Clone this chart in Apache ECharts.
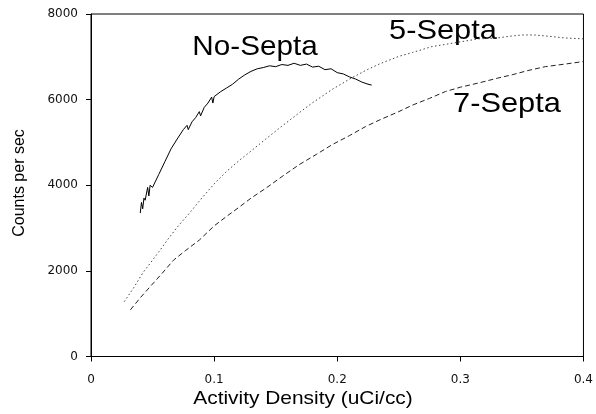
<!DOCTYPE html>
<html>
<head>
<meta charset="utf-8">
<script src="https://cdn.jsdelivr.net/npm/echarts@6/dist/echarts.min.js"></script>
<style>
html,body{margin:0;padding:0;background:#fff;}
#container1{width:596px;height:414px;}
</style>
</head>
<body>
<div id="container1"></div>
<script>
// x axis ticks
var xTicks = [0, 0.1, 0.2, 0.3, 0.4];
var yTicks = [0, 2000, 4000, 6000, 8000];

// No-Septa
var noSeptaX = [0.040, 0.041, 0.042, 0.043, 0.044, 0.046, 0.047, 0.048, 0.050, 0.055, 0.060, 0.065, 0.070, 0.075,
                0.078, 0.079, 0.082, 0.085, 0.088, 0.089, 0.092, 0.095, 0.098, 0.099, 0.100, 0.105, 0.110, 0.115,
                0.120, 0.125, 0.130, 0.135, 0.140, 0.145, 0.150, 0.155, 0.160, 0.165, 0.170, 0.175, 0.180, 0.185,
                0.190, 0.195, 0.200, 0.205, 0.210, 0.215, 0.220, 0.225, 0.228];
var noSeptaY = [3350, 3600, 3450, 3700, 3650, 3950, 3750, 4000, 3950, 4250, 4550, 4850, 5080, 5300,
                5400, 5300, 5480, 5580, 5720, 5620, 5820, 5920, 6060, 5920, 6070, 6180, 6270, 6360,
                6480, 6580, 6660, 6720, 6750, 6790, 6770, 6820, 6800, 6850, 6800, 6830, 6760, 6780,
                6700, 6720, 6630, 6600, 6530, 6480, 6410, 6360, 6340];

// 5-Septa
var fiveSeptaX = [0.027, 0.035, 0.042, 0.050, 0.056, 0.062, 0.070, 0.080, 0.090, 0.100, 0.110, 0.120, 0.130,
                  0.142, 0.155, 0.169, 0.180, 0.196, 0.210, 0.223, 0.234, 0.250, 0.261, 0.277, 0.288, 0.300,
                  0.315, 0.330, 0.340, 0.350, 0.360, 0.372, 0.385, 0.400];
var fiveSeptaY = [1280, 1620, 1950, 2250, 2480, 2720, 3020, 3350, 3700, 4030, 4320, 4570, 4800,
                  5080, 5380, 5690, 5930, 6240, 6480, 6680, 6830, 7010, 7100, 7240, 7290, 7350,
                  7420, 7440, 7480, 7510, 7510, 7480, 7440, 7420];

// 7-Septa
var sevenSeptaX = [0.032, 0.040, 0.048, 0.058, 0.067, 0.077, 0.088, 0.100, 0.110, 0.120, 0.130, 0.142, 0.155,
                   0.169, 0.183, 0.196, 0.210, 0.223, 0.234, 0.250, 0.261, 0.275, 0.288, 0.300, 0.315, 0.330,
                   0.342, 0.355, 0.369, 0.385, 0.400];
var sevenSeptaY = [1090, 1370, 1630, 1950, 2250, 2480, 2720, 3050, 3270, 3480, 3700, 3930, 4200,
                   4480, 4720, 4950, 5160, 5370, 5520, 5720, 5870, 6030, 6190, 6290, 6390, 6500,
                   6580, 6680, 6770, 6830, 6890];

function pairs(xs, ys){
	var out = [];
	for(var i = 0; i < xs.length; i++){
		out.push([xs[i], ys[i]]);
	}
	return out;
}

var myChart = echarts.init(document.getElementById('container1'));
var option = {
	animation: false,
	grid: {
		left: 91, top: 14, right: 11, bottom: 57.5,
		show: true,
		borderColor: '#000',
		borderWidth: 1
	},
	xAxis: {
		type: 'value',
		min: xTicks[0],
		max: xTicks[xTicks.length - 1],
		interval: 0.1,
		splitLine: {show: false},
		axisLine: {lineStyle: {color: '#000', width: 1}},
		axisTick: {length: 5, lineStyle: {color: '#000'}},
		axisLabel: {
			color: '#111', fontFamily: 'DejaVu Sans', fontSize: 12, margin: 17
		}
	},
	yAxis: {
		type: 'value',
		min: yTicks[0],
		max: yTicks[yTicks.length - 1],
		interval: 2000,
		splitLine: {show: false},
		axisLine: {show: true, lineStyle: {color: '#000', width: 1}},
		axisTick: {show: true, length: 5, lineStyle: {color: '#000'}},
		axisLabel: {
			color: '#111', fontFamily: 'DejaVu Sans', fontSize: 12, margin: 13,
			formatter: function(v){ return String(v); }
		}
	},
	series: [{
		name: 'No-Septa',
		type: 'line',
		symbol: 'none',
		data: pairs(noSeptaX, noSeptaY),
		lineStyle: {color: '#000', width: 1, type: 'solid'}
	}, {
		name: '5-Septa',
		type: 'line',
		symbol: 'none',
		data: pairs(fiveSeptaX, fiveSeptaY),
		lineStyle: {color: '#444', width: 1, type: [1.5, 2.5]}
	}, {
		name: '7-Septa',
		type: 'line',
		symbol: 'none',
		data: pairs(sevenSeptaX, sevenSeptaY),
		lineStyle: {color: '#222', width: 1, type: [5, 3]}
	}],
	// curve labels and axis titles
	graphic: [
		{type: 'text', x: 255, y: 47, scaleX: 1.06,
		 style: {text: 'No-Septa', fontFamily: 'Liberation Sans', fontSize: 28, fill: '#000', align: 'center', verticalAlign: 'middle'}},
		{type: 'text', x: 443, y: 31, scaleX: 1.1,
		 style: {text: '5-Septa', fontFamily: 'Liberation Sans', fontSize: 28, fill: '#000', align: 'center', verticalAlign: 'middle'}},
		{type: 'text', x: 507, y: 104, scaleX: 1.1,
		 style: {text: '7-Septa', fontFamily: 'Liberation Sans', fontSize: 28, fill: '#000', align: 'center', verticalAlign: 'middle'}},
		{type: 'text', x: 303, y: 399, scaleX: 1.1,
		 style: {text: 'Activity Density (uCi/cc)', fontFamily: 'Liberation Sans', fontSize: 19, fill: '#000', align: 'center', verticalAlign: 'middle'}},
		{type: 'text', x: 20, y: 183, rotation: Math.PI / 2,
		 style: {text: 'Counts per sec', fontFamily: 'Liberation Sans', fontSize: 16, fill: '#000', align: 'center', verticalAlign: 'middle'}}
	]
};
myChart.setOption(option);
</script>
</body>
</html>
